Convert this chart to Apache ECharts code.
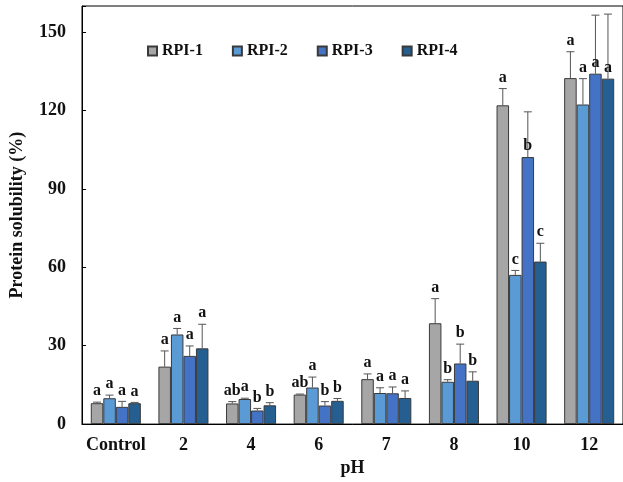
<!DOCTYPE html>
<html>
<head>
<meta charset="utf-8">
<script src="https://cdn.jsdelivr.net/npm/echarts@6/dist/echarts.min.js"></script>
<style>
html, body { margin: 0; padding: 0; background: #fff; }
#main { width: 623px; height: 482px; }
</style>
</head>
<body>
<div id="main"></div>
<script>
var categories = ['Control', '2', '4', '6', '7', '8', '10', '12'];
var seriesNames = ['RPI-1', 'RPI-2', 'RPI-3', 'RPI-4'];
var yTicks = [0, 30, 60, 90, 120, 150];

// mean solubility (%)
var rpi1 = [8.0, 22.0, 7.9, 11.3, 17.2, 38.6, 122.0, 132.4];
var rpi2 = [9.9, 34.3, 9.6, 14.0, 11.9, 16.2, 57.1, 122.3];
var rpi3 = [6.6, 26.1, 5.2, 7.1, 11.8, 23.2, 102.2, 134.1];
var rpi4 = [8.0, 29.0, 7.2, 8.9, 10.0, 16.6, 62.2, 132.2];

// upper end of error bars
var rpi1Err = [8.4, 28.0, 8.6, 11.5, 19.2, 48.0, 128.4, 142.5];
var rpi2Err = [11.1, 36.6, 9.9, 18.0, 13.9, 17.0, 58.8, 132.2];
var rpi3Err = [8.7, 29.9, 6.0, 8.6, 14.2, 30.6, 119.5, 156.5];
var rpi4Err = [8.3, 38.2, 8.2, 9.8, 12.7, 20.0, 69.2, 156.9];

// significance letters
var rpi1Sig = ['a', 'a', 'ab', 'ab', 'a', 'a', 'a', 'a'];
var rpi2Sig = ['a', 'a', 'a', 'a', 'a', 'b', 'c', 'a'];
var rpi3Sig = ['a', 'a', 'b', 'b', 'a', 'b', 'b', 'a'];
var rpi4Sig = ['a', 'a', 'b', 'b', 'a', 'b', 'c', 'a'];

var colors = ['#A6A6A6', '#5B9BD5', '#4472C4', '#255E91'];
var font = '"Liberation Serif", "Times New Roman", serif';
var catGap = 0.26;

var values = [rpi1, rpi2, rpi3, rpi4];
var errs = [rpi1Err, rpi2Err, rpi3Err, rpi4Err];
var sigs = [rpi1Sig, rpi2Sig, rpi3Sig, rpi4Sig];

var series = [];
for (var s = 0; s < seriesNames.length; s++) {
    series.push({
        name: seriesNames[s],
        type: 'bar',
        data: values[s],
        barGap: '0%',
        barCategoryGap: (catGap * 100) + '%',
        itemStyle: { color: colors[s], borderColor: '#3a3a3a', borderWidth: 1 }
    });
}

var errData = [];
for (var s = 0; s < seriesNames.length; s++) {
    for (var i = 0; i < categories.length; i++) {
        errData.push([i, values[s][i], errs[s][i], s]);
    }
}

series.push({
    type: 'custom',
    data: errData,
    z: 5,
    clip: false,
    renderItem: function (params, api) {
        var ci = api.value(0);
        var s = api.value(3);
        var band = api.size([1, 0])[0];
        var barW = band * (1 - catGap) / 4;
        var cx = api.coord([ci, 0])[0] - barW * 2 + barW * (s + 0.5);
        var top = api.coord([ci, api.value(1)]);
        var hi = api.coord([ci, api.value(2)]);
        var capHalf = barW * 0.32;
        // long error bars: letter sits just above the bar
        var anchor = (api.value(2) - api.value(1) > 12) ? top[1] : hi[1];
        return {
            type: 'group',
            children: [
                { type: 'line', shape: { x1: cx, y1: top[1], x2: cx, y2: hi[1] }, style: { stroke: '#555', lineWidth: 1 } },
                { type: 'line', shape: { x1: cx - capHalf, y1: hi[1], x2: cx + capHalf, y2: hi[1] }, style: { stroke: '#555', lineWidth: 1 } },
                { type: 'text', x: cx, y: anchor - 3, style: { text: sigs[s][ci], fill: '#111', font: 'bold 16px ' + font, align: 'center', verticalAlign: 'bottom' } }
            ]
        };
    }
});

var myChart = echarts.init(document.getElementById('main'));
var option = {
    animation: false,
    backgroundColor: '#fff',
    textStyle: { fontFamily: font },
    grid: { left: 82, right: -5, top: 6, bottom: 54, show: true, borderColor: '#000', borderWidth: 1 },
    legend: {
        data: seriesNames,
        left: 142,
        top: 38,
        icon: 'rect',
        itemWidth: 9,
        itemHeight: 9,
        itemGap: 29,
        textStyle: { fontFamily: font, fontWeight: 'bold', fontSize: 16, color: '#111' }
    },
    xAxis: {
        type: 'category',
        data: categories,
        name: 'pH',
        nameLocation: 'middle',
        nameGap: 32,
        nameTextStyle: { fontFamily: font, fontWeight: 'bold', fontSize: 18, color: '#111' },
        axisLine: { lineStyle: { color: '#000', width: 1 } },
        axisTick: { inside: true, length: 4, lineStyle: { color: '#000' } },
        axisLabel: { interval: 0, margin: 12, fontFamily: font, fontWeight: 'bold', fontSize: 18, color: '#111' }
    },
    yAxis: {
        type: 'value',
        min: 0,
        max: 160,
        interval: 30,
        name: 'Protein solubility (%)',
        nameLocation: 'middle',
        nameGap: 56,
        nameTextStyle: { fontFamily: font, fontWeight: 'bold', fontSize: 18, color: '#111' },
        splitLine: { show: false },
        axisLine: { show: true, lineStyle: { color: '#000', width: 1 } },
        axisTick: { show: true, inside: true, length: 4, lineStyle: { color: '#000' } },
        axisLabel: {
            margin: 16,
            fontFamily: font,
            fontWeight: 'bold',
            fontSize: 18,
            color: '#111',
            formatter: function (v) { return yTicks.indexOf(v) >= 0 ? String(v) : ''; }
        }
    },
    series: series
};
myChart.setOption(option);
</script>
</body>
</html>
